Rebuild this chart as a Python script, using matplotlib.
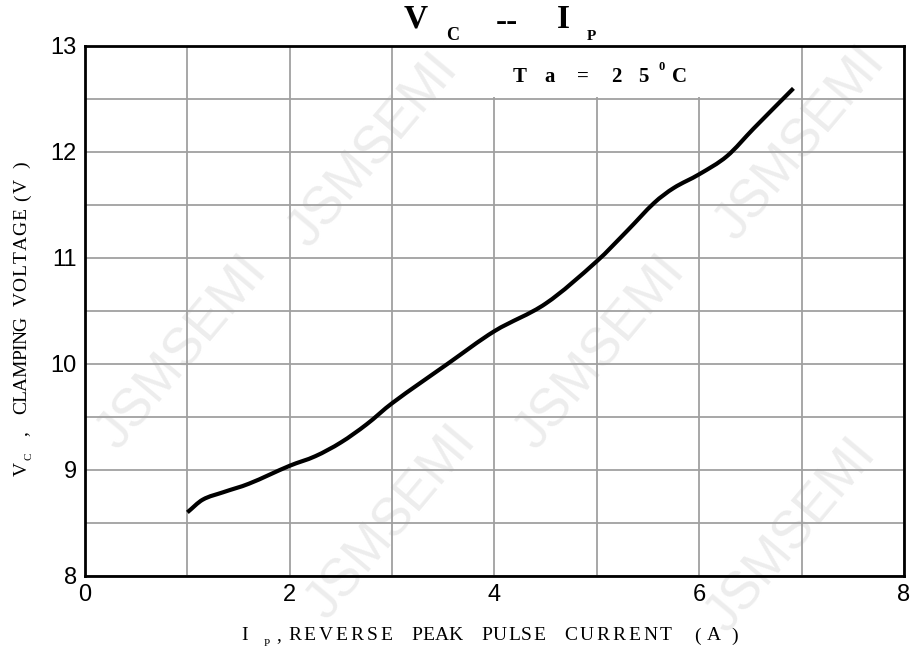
import matplotlib
matplotlib.use("Agg")
import matplotlib.pyplot as plt
from matplotlib.patches import Rectangle, PathPatch
from matplotlib.path import Path

# curve
ip = [1.00, 1.15, 1.35, 1.60, 2.00, 2.25, 2.50, 2.75, 3.00, 3.54, 4.00, 4.50,
      5.00, 5.30, 5.56, 5.75, 6.00, 6.27, 6.53, 6.92]
vc = [8.60, 8.72, 8.79, 8.87, 9.04, 9.13, 9.26, 9.43, 9.63, 10.00, 10.31, 10.57,
      10.97, 11.26, 11.52, 11.66, 11.79, 11.96, 12.22, 12.60]

x_ticks = [0, 2, 4, 6, 8]
y_ticks = [8, 9, 10, 11, 12, 13]

W, H = 910, 654
fig = plt.figure(figsize=(W / 100, H / 100), dpi=100)
ax = fig.add_axes([0.0934, 0.1193, 0.9000, 0.8104])
ax.patch.set_alpha(0)
renderer = fig.canvas.get_renderer()

# faint watermark behind everything
wm = [(0.41, 0.77), (0.20, 0.46), (0.66, 0.46), (0.88, 0.78), (0.43, 0.20), (0.87, 0.18)]
for wx, wy in wm:
    fig.text(wx, wy, "JSMSEMI", fontsize=38, fontfamily="Liberation Sans", color="#ededed",
             rotation=50, ha="center", va="center", zorder=-5)

ax.set_xlim(0, 8)
ax.set_ylim(8, 13)
ax.set_xticks(x_ticks)
ax.set_yticks(y_ticks)
ax.set_xticks([1, 3, 5, 7], minor=True)
ax.set_yticks([8.5, 9.5, 10.5, 11.5, 12.5], minor=True)
ax.grid(True, which="both", color="#a0a0a0", linewidth=1.3, zorder=1)
ax.tick_params(which="both", length=0, labelsize=17)
ax.tick_params(axis="x", pad=6)
ax.tick_params(axis="y", pad=6)
for lab in ax.get_xticklabels() + ax.get_yticklabels():
    lab.set_fontfamily("Liberation Sans")
for s in ax.spines.values():
    s.set_linewidth(2)
    s.set_zorder(5)

# white box behind the temperature note
ax.add_patch(Rectangle((3.92, 12.52), 2.2, 0.48, facecolor="white", edgecolor="none", zorder=2))

# smooth curve: cubic Bezier segments through the read points
slopes = []
for i in range(len(ip)):
    a, b = max(i - 1, 0), min(i + 1, len(ip) - 1)
    slopes.append((vc[b] - vc[a]) / (ip[b] - ip[a]))
verts = [(ip[0], vc[0])]
codes = [Path.MOVETO]
for i in range(len(ip) - 1):
    h = (ip[i + 1] - ip[i]) / 3
    verts += [(ip[i] + h, vc[i] + slopes[i] * h),
              (ip[i + 1] - h, vc[i + 1] - slopes[i + 1] * h),
              (ip[i + 1], vc[i + 1])]
    codes += [Path.CURVE4] * 3
ax.add_patch(PathPatch(Path(verts, codes), facecolor="none", edgecolor="black",
                       linewidth=3, capstyle="butt", zorder=4))

serif = "Liberation Serif"

# temperature note, one glyph at a time like the original
ta_chars = ["T", "a", "=", "2", "5", "C"]
ta_x = [4.243, 4.536, 4.868, 5.194, 5.454, 5.811]
for ch, cx in zip(ta_chars, ta_x):
    ax.text(cx, 12.71, ch, fontsize=15, fontweight="bold", fontfamily=serif,
            ha="center", va="center", zorder=6)
ax.text(5.634, 12.80, "0", fontsize=9, fontweight="bold", fontfamily=serif,
        ha="center", va="center", zorder=6)


def ftxt(px, py, s, size, **kw):
    # px/py are pixel coords from the top-left
    return fig.text(px / W, 1 - py / H, s, fontsize=size, fontfamily=serif, **kw)


# title with subscripts
ftxt(416, 19, "V", 24, fontweight="bold", ha="center", va="center")
ftxt(453, 36, "C", 13, fontweight="bold", ha="center", va="center")
ftxt(507, 22, "--", 24, fontweight="bold", ha="center", va="center")
ftxt(563, 19, "I", 24, fontweight="bold", ha="center", va="center")
ftxt(591, 37, "P", 11, fontweight="bold", ha="center", va="center")


def spread(word, start, end, fixed, size, vertical=False):
    # letter-spaced word stretched between start and end pixel
    texts, sizes = [], []
    for ch in word:
        if vertical:
            t = ftxt(fixed, 0, ch, size, rotation=90, ha="center", va="bottom")
            sizes.append(t.get_window_extent(renderer).height)
        else:
            t = ftxt(0, fixed, ch, size, ha="left", va="center")
            sizes.append(t.get_window_extent(renderer).width)
        texts.append(t)
    gap = (abs(end - start) - sum(sizes)) / (len(word) - 1)
    pos = start
    for t, sz in zip(texts, sizes):
        if vertical:
            t.set_y(1 - pos / H)
            pos -= sz + gap
        else:
            t.set_x(pos / W)
            pos += sz + gap


# x axis label
ftxt(245, 636, "I", 14, ha="center", va="center")
ftxt(267, 644, "P", 8, ha="center", va="center")
ftxt(279, 636, ",", 14, ha="center", va="center")
for word, x0, x1 in [("REVERSE", 288, 392), ("PEAK", 411, 463),
                     ("PULSE", 481, 545), ("CURRENT", 564, 672)]:
    spread(word, x0, x1, 636, 14)
for ch, cx in [("(", 697), ("A", 714), (")", 735)]:
    ftxt(cx, 636, ch, 14, ha="center", va="center")

# y axis label
ftxt(22, 476, "V", 14, rotation=90, ha="center", va="bottom")
ftxt(29, 460, "C", 8, rotation=90, ha="center", va="bottom")
ftxt(22, 436, ",", 14, rotation=90, ha="center", va="bottom")
spread("CLAMPING", 414, 317, 22, 14, vertical=True)
spread("VOLTAGE", 306, 208, 22, 14, vertical=True)
ftxt(22, 201, "(", 14, rotation=90, ha="center", va="bottom")
ftxt(22, 193, "V", 14, rotation=90, ha="center", va="bottom")
ftxt(22, 168, ")", 14, rotation=90, ha="center", va="bottom")

fig.savefig("out.png", dpi=100)
